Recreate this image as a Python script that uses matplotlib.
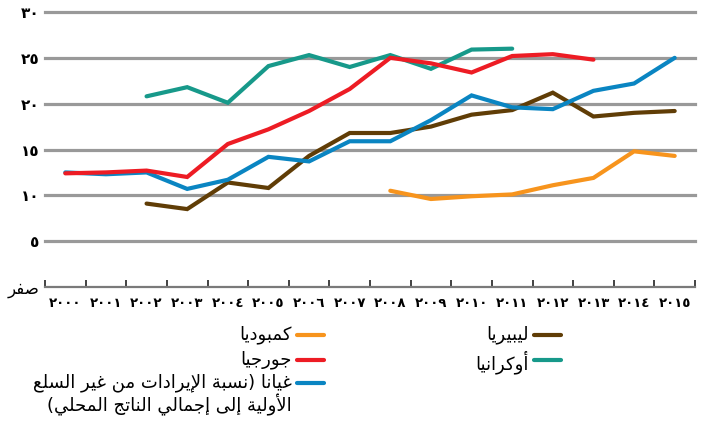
import numpy as np
import matplotlib
matplotlib.use('Agg')
import matplotlib.pyplot as plt
from matplotlib.lines import Line2D

nan = np.nan
years = list(range(2000, 2016))

georgia = [12.4, 12.5, 12.7, 12.0, 15.6, 17.2, 19.2, 21.6, 25.0, 24.4, 23.4, 25.2, 25.4, 24.8, nan, nan]
guyana = [12.5, 12.3, 12.5, 10.7, 11.7, 14.2, 13.7, 15.9, 15.9, 18.2, 20.9, 19.6, 19.4, 21.4, 22.2, 25.0]
liberia = [nan, nan, 9.1, 8.5, 11.4, 10.8, 14.3, 16.8, 16.8, 17.5, 18.8, 19.3, 21.2, 18.6, 19.0, 19.2]
ukraine = [nan, nan, 20.8, 21.8, 20.1, 24.1, 25.3, 24.0, 25.3, 23.8, 25.9, 26.0, nan, nan, nan, nan]
cambodia = [nan, nan, nan, nan, nan, nan, nan, nan, 10.5, 9.6, 9.9, 10.1, 11.1, 11.9, 14.8, 14.3]

year_labels = ['٢٠٠٠', '٢٠٠١', '٢٠٠٢', '٢٠٠٣', '٢٠٠٤', '٢٠٠٥', '٢٠٠٦', '٢٠٠٧',
               '٢٠٠٨', '٢٠٠٩', '٢٠١٠', '٢٠١١', '٢٠١٢', '٢٠١٣', '٢٠١٤', '٢٠١٥']
y_ticks = [0, 5, 10, 15, 20, 25, 30]
y_labels = ['صفر', '٥', '١٠', '١٥', '٢٠', '٢٥', '٣٠']

names = {
    'cambodia': 'كمبوديا',
    'georgia': 'جورجيا',
    'guyana': 'غيانا (نسبة الإيرادات من غير السلع\nالأولية إلى إجمالي الناتج المحلي)',
    'liberia': 'ليبيريا',
    'ukraine': 'أوكرانيا',
}
colors = {
    'cambodia': '#f7941d',
    'georgia': '#ed1c24',
    'guyana': '#0a85c2',
    'liberia': '#603d06',
    'ukraine': '#17998a',
}

# matplotlib 3.10 has no arabic shaping -> use presentation forms, reversed
FORMS = {
    'ا': ('\uFE8D', '\uFE8E', None, None),
    'أ': ('\uFE83', '\uFE84', None, None),
    'إ': ('\uFE87', '\uFE88', None, None),
    'ب': ('\uFE8F', '\uFE90', '\uFE91', '\uFE92'),
    'ة': ('\uFE93', '\uFE94', None, None),
    'ت': ('\uFE95', '\uFE96', '\uFE97', '\uFE98'),
    'ج': ('\uFE9D', '\uFE9E', '\uFE9F', '\uFEA0'),
    'ح': ('\uFEA1', '\uFEA2', '\uFEA3', '\uFEA4'),
    'د': ('\uFEA9', '\uFEAA', None, None),
    'ر': ('\uFEAD', '\uFEAE', None, None),
    'س': ('\uFEB1', '\uFEB2', '\uFEB3', '\uFEB4'),
    'ص': ('\uFEB9', '\uFEBA', '\uFEBB', '\uFEBC'),
    'ع': ('\uFEC9', '\uFECA', '\uFECB', '\uFECC'),
    'غ': ('\uFECD', '\uFECE', '\uFECF', '\uFED0'),
    'ف': ('\uFED1', '\uFED2', '\uFED3', '\uFED4'),
    'ك': ('\uFED9', '\uFEDA', '\uFEDB', '\uFEDC'),
    'ل': ('\uFEDD', '\uFEDE', '\uFEDF', '\uFEE0'),
    'م': ('\uFEE1', '\uFEE2', '\uFEE3', '\uFEE4'),
    'ن': ('\uFEE5', '\uFEE6', '\uFEE7', '\uFEE8'),
    'و': ('\uFEED', '\uFEEE', None, None),
    'ى': ('\uFEEF', '\uFEF0', None, None),
    'ي': ('\uFEF1', '\uFEF2', '\uFEF3', '\uFEF4'),
}
LAM_ALEF = {'ا': ('\uFEFB', '\uFEFC'), 'أ': ('\uFEF7', '\uFEF8'), 'إ': ('\uFEF9', '\uFEFA')}
MIRROR = {'(': ')', ')': '('}


def shape_line(s):
    units = []
    i = 0
    while i < len(s):
        if s[i] == 'ل' and i + 1 < len(s) and s[i + 1] in LAM_ALEF:
            units.append(('LA', s[i + 1]))
            i += 2
        else:
            units.append((s[i], None))
            i += 1
    out = []
    for k, (c, a) in enumerate(units):
        prev = units[k - 1][0] if k > 0 else None
        nxt = units[k + 1][0] if k + 1 < len(units) else None
        is_letter = c in FORMS or c == 'LA'
        jp = is_letter and prev in FORMS and FORMS[prev][2] is not None
        if c == 'LA':
            out.append(LAM_ALEF[a][1 if jp else 0])
            continue
        if c not in FORMS:
            out.append(MIRROR.get(c, c))
            continue
        f = FORMS[c]
        jn = f[2] is not None and (nxt in FORMS or nxt == 'LA')
        if jp and jn:
            out.append(f[3])
        elif jp:
            out.append(f[1])
        elif jn:
            out.append(f[2])
        else:
            out.append(f[0])
    return ''.join(reversed(out))


def ar(s):
    # digits-only strings stay left to right
    if all(ch.isdigit() for ch in s):
        return s
    return '\n'.join(shape_line(line) for line in s.split('\n'))


plt.rcParams['font.family'] = ['DejaVu Sans']

fig = plt.figure(figsize=(7.06, 4.22), dpi=100)
ax = fig.add_axes([45 / 706, 135 / 422, 650 / 706, 275 / 422])
ax.set_xlim(1999.5, 2015.5)
ax.set_ylim(0, 30)

for v in y_ticks[1:]:
    ax.axhline(v, color='#999999', lw=2.3, zorder=1, clip_on=False)

series = [('liberia', liberia), ('cambodia', cambodia), ('guyana', guyana),
          ('ukraine', ukraine), ('georgia', georgia)]
for key, vals in series:
    ax.plot(years, vals, color=colors[key], lw=3.0, solid_capstyle='round',
            solid_joinstyle='miter', zorder=3, clip_on=False)

for s in ['top', 'right', 'left']:
    ax.spines[s].set_visible(False)
ax.spines['bottom'].set_color('#7a7a7a')
ax.spines['bottom'].set_linewidth(1.6)

ax.set_xticks([1999.5 + k for k in range(17)])
ax.set_xticklabels([])
ax.tick_params(axis='x', which='major', direction='in', length=5, width=1.2, color='#222222')
ax.set_xticks(years, minor=True)
ax.set_xticklabels(year_labels, minor=True, fontsize=9.5, fontweight='bold')
ax.tick_params(axis='x', which='minor', length=0, pad=7)

ax.set_yticks(y_ticks)
ax.set_yticklabels([ar(t) for t in y_labels], fontsize=11, fontweight='bold')
ax.tick_params(axis='y', length=0, pad=4)
zero_lbl = ax.get_yticklabels()[0]
zero_lbl.set_fontweight('normal')
zero_lbl.set_fontsize(12)

# legend, right-to-left: line sample to the right of the text
legend_items = [
    ('cambodia', 297, 335), ('georgia', 297, 360), ('guyana', 297, 383),
    ('liberia', 534, 335), ('ukraine', 534, 360),
]
W, H = 706, 422
for key, x0, y0 in legend_items:
    fig.add_artist(Line2D([x0 / W, (x0 + 27) / W], [1 - y0 / H, 1 - y0 / H],
                          color=colors[key], lw=3.0, solid_capstyle='round'))
    fig.text((x0 - 5) / W, 1 - (y0 - 10) / H, ar(names[key]), ha='right', va='top',
             fontsize=13, multialignment='right', linespacing=1.15)

fig.savefig('out.png', dpi=100)
